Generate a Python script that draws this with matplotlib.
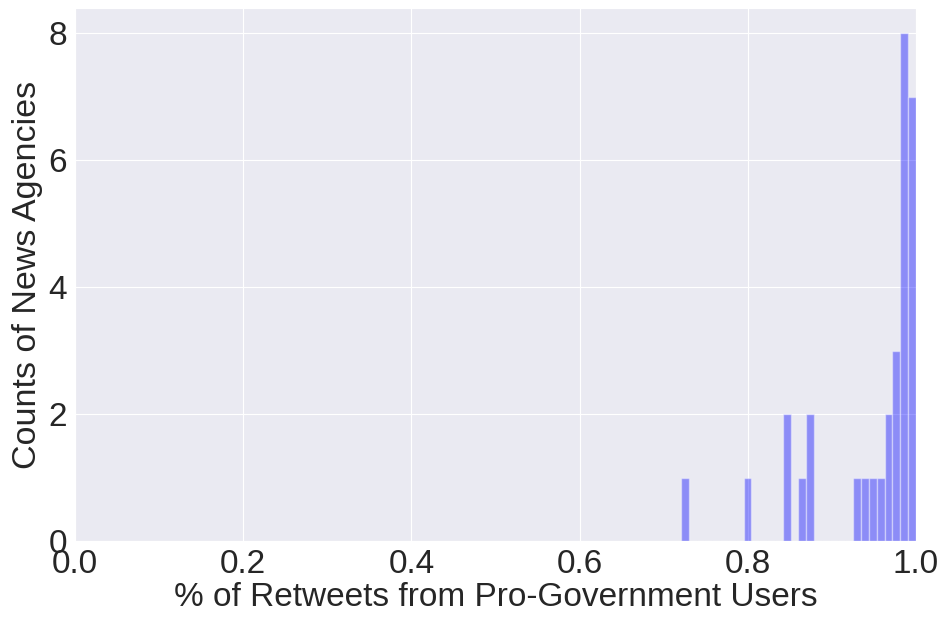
import numpy as np
import matplotlib
matplotlib.use("Agg")
import matplotlib.pyplot as plt
import seaborn as sns

# Histogram data
bin_min = 0.7205
bin_max = 1.0
n_bins = 30
bin_counts = [1, 0, 0, 0, 0, 0, 0, 0, 1, 0,
              0, 0, 0, 2, 0, 1, 2, 0, 0, 0,
              0, 0, 1, 1, 1, 1, 2, 3, 8, 7]
x_ticks = [0.0, 0.2, 0.4, 0.6, 0.8, 1.0]
y_ticks = [0, 2, 4, 6, 8]
x_label = "% of Retweets from Pro-Government Users"
y_label = "Counts of News Agencies"

sns.set_style("darkgrid")
plt.rcParams['font.family'] = ['Liberation Sans', 'DejaVu Sans']

fig = plt.figure(figsize=(9.47, 6.27), dpi=100)
ax = fig.add_axes([75/947, 1 - 541/627, (916-75)/947, (541-8)/627])

edges = np.linspace(bin_min, bin_max, n_bins + 1)
centers = (edges[:-1] + edges[1:]) / 2
ax.hist(centers, bins=edges, weights=bin_counts, color='blue', alpha=0.4,
        edgecolor='white', linewidth=1)

ax.set_xlim(0, 1.0)
ax.set_ylim(0, 8.4)
ax.set_xticks(x_ticks)
ax.set_yticks(y_ticks)
ax.tick_params(labelsize=24, colors='#262626', pad=2)
ax.set_xlabel(x_label, fontsize=24, color='#262626', labelpad=2)
ax.set_ylabel(y_label, fontsize=24.5, color='#262626', labelpad=4)

fig.savefig("out.png", dpi=100)
